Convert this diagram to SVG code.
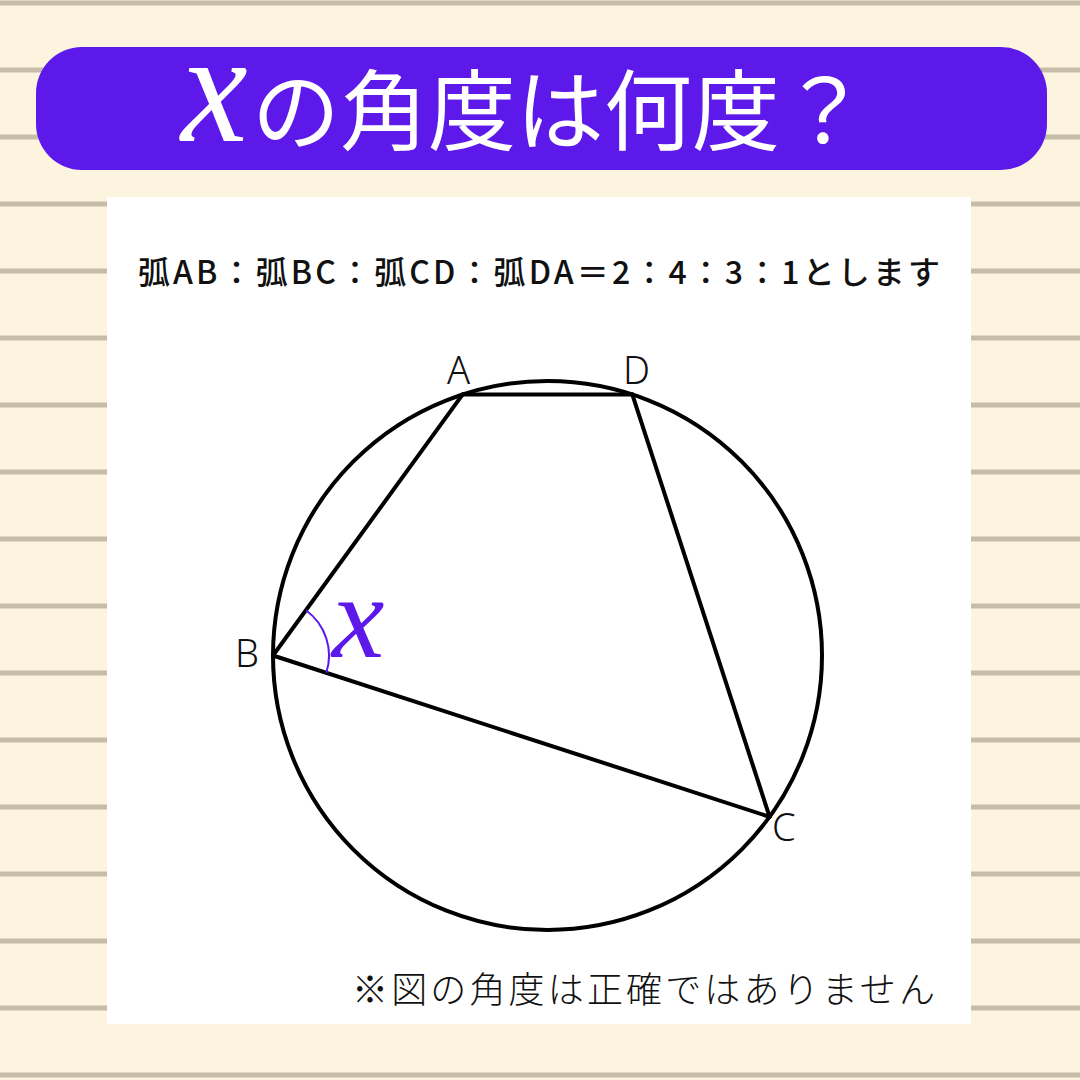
<svg xmlns="http://www.w3.org/2000/svg" width="1080" height="1080" viewBox="0 0 1080 1080">
<style>
.rule{stroke:#C6BDA9;stroke-width:5}
.geo{fill:none;stroke:#000;stroke-width:4;stroke-linecap:round;stroke-linejoin:round}
.lbl{font-family:"Noto Sans","Noto Sans CJK JP",sans-serif;font-weight:300;font-size:38px;fill:#111}
.jp{font-family:"Noto Sans CJK JP",sans-serif;fill:#111}
</style>
<rect width="1080" height="1080" fill="#FDF4DF"/>
<g id="rules">
<line class="rule" x1="0" y1="3" x2="1080" y2="3"/>
<line class="rule" x1="0" y1="70" x2="1080" y2="70"/>
<line class="rule" x1="0" y1="137" x2="1080" y2="137"/>
<line class="rule" x1="0" y1="204" x2="1080" y2="204"/>
<line class="rule" x1="0" y1="271" x2="1080" y2="271"/>
<line class="rule" x1="0" y1="338" x2="1080" y2="338"/>
<line class="rule" x1="0" y1="405" x2="1080" y2="405"/>
<line class="rule" x1="0" y1="472" x2="1080" y2="472"/>
<line class="rule" x1="0" y1="539" x2="1080" y2="539"/>
<line class="rule" x1="0" y1="606" x2="1080" y2="606"/>
<line class="rule" x1="0" y1="673" x2="1080" y2="673"/>
<line class="rule" x1="0" y1="740" x2="1080" y2="740"/>
<line class="rule" x1="0" y1="807" x2="1080" y2="807"/>
<line class="rule" x1="0" y1="874" x2="1080" y2="874"/>
<line class="rule" x1="0" y1="941" x2="1080" y2="941"/>
<line class="rule" x1="0" y1="1008" x2="1080" y2="1008"/>
<line class="rule" x1="0" y1="1075" x2="1080" y2="1075"/>
</g>
<g id="header">
<rect x="36" y="47" width="1011" height="123" rx="46" fill="#5C19E9"/>
<text transform="translate(181,141) scale(1,1.06)" fill="#FFFFFF" font-family="Liberation Serif,serif" font-style="italic" font-size="150">x</text>
<text x="252" y="143" fill="#FFFFFF" font-family="Noto Sans CJK JP,sans-serif" font-size="88">の角度は何度？</text>
</g>
<rect id="panel" x="107" y="197" width="864" height="827" fill="#FFFFFF"/>
<text id="condition" class="jp" x="138" y="284" font-size="32" font-weight="500" textLength="802" lengthAdjust="spacing">弧AB：弧BC：弧CD：弧DA＝2：4：3：1とします</text>
<g id="circle"><circle class="geo" cx="547.5" cy="655.5" r="274.5"/></g>
<g id="connectors">
<line class="geo" x1="462.7" y1="394.4" x2="632.3" y2="394.4"/>
<line class="geo" x1="462.7" y1="394.4" x2="273" y2="655.5"/>
<line class="geo" x1="273" y1="655.5" x2="769.6" y2="816.8"/>
<line class="geo" x1="632.3" y1="394.4" x2="769.6" y2="816.8"/>
<path d="M305.9,610.2 A56,56 0 0 1 326.3,672.8" fill="none" stroke="#5C19E9" stroke-width="2"/>
</g>
<g id="node-A"><text class="lbl" x="447" y="384">A</text></g>
<g id="node-D"><text class="lbl" x="623" y="384">D</text></g>
<g id="node-B"><text class="lbl" x="235" y="667">B</text></g>
<g id="node-C"><text class="lbl" x="772" y="841">C</text></g>
<text id="angle-x" x="332" y="657" fill="#5C19E9" font-family="Liberation Serif,serif" font-style="italic" font-size="118">x</text>
<text id="note" class="jp" x="352" y="1003" font-size="36" font-weight="300" textLength="583" lengthAdjust="spacing">※図の角度は正確ではありません</text>
</svg>
